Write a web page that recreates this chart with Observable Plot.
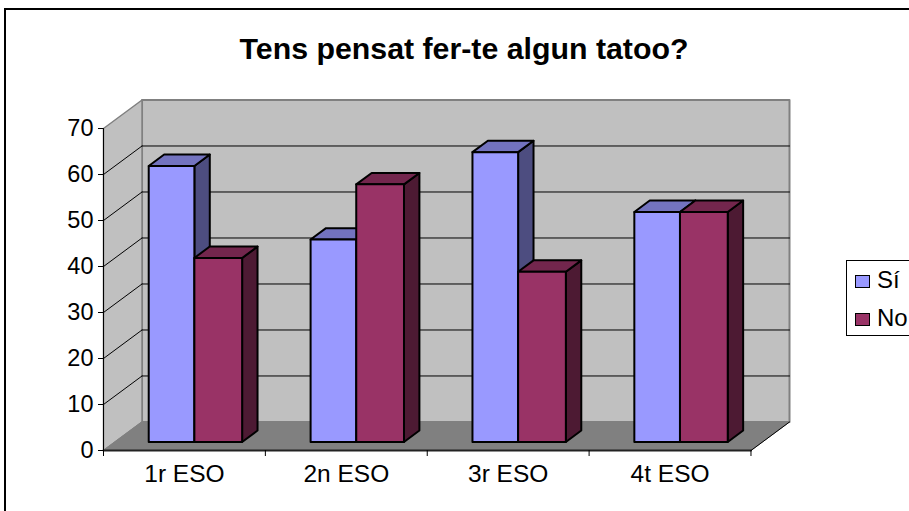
<!DOCTYPE html>
<html>
<head>
<meta charset="utf-8">
<script src="https://cdn.jsdelivr.net/npm/d3@7"></script>
<script src="https://cdn.jsdelivr.net/npm/@observablehq/plot@0.6"></script>
<style>
html,body{margin:0;padding:0;background:#fff;overflow:hidden;width:909px;height:511px}
body{position:relative;font-family:"Liberation Sans",Arial,sans-serif;color:#000}
#frame{position:absolute;left:4px;top:8px;width:1000px;height:1000px;border:2px solid #000;box-sizing:border-box;pointer-events:none}
#title{position:absolute;left:0;width:928px;top:32px;text-align:center;font-weight:bold;font-size:30.3px;line-height:34px;white-space:nowrap}
#chart{position:absolute;left:0;top:0}
#legend{position:absolute;left:846px;top:260px;width:90px;height:76px;border:1px solid #000;box-sizing:border-box;background:#fff}
.row{position:absolute;left:8px;font-size:24px;line-height:28px;white-space:nowrap}
.sw{display:inline-block;width:13px;height:11px;border:1.5px solid #000;margin-right:7px;vertical-align:0px}
</style>
</head>
<body>
<div id="chart"></div>
<div id="frame"></div>
<div id="title">Tens pensat fer-te algun tatoo?</div>
<div id="legend"></div>
<script>
const categories = ["1r ESO", "2n ESO", "3r ESO", "4t ESO"];
const si = [60, 44, 63, 50];
const no = [40, 56, 37, 50];
const yTicks = [0, 10, 20, 30, 40, 50, 60, 70];
const seriesNames = ["Sí", "No"];
const front = ["#9999FF", "#993366"];
const top_ = ["#7373BF", "#73264D"];
const side = ["#4D4D80", "#4D1A33"];

// oblique projection of the chart's box: depth z (0 = front, 1 = back) shifts x and y in data units
const depthX = 0.238, depthY = 6.2;
const yMax = 70;
const n = categories.length;
const P = (x, y, z) => ({px: x + z * depthX, py: y + z * depthY});
const poly = (pts, fill, stroke, strokeWidth) =>
  Plot.line(pts.map(([x, y, z]) => P(x, y, z)), {x: "px", y: "py", fill, stroke, strokeWidth, curve: "linear-closed"});
const seg = (a, b, stroke, strokeWidth) =>
  Plot.line([a, b].map(([x, y, z]) => P(x, y, z)), {x: "px", y: "py", stroke, strokeWidth});

const marks = [];
// back wall, side wall, floor
marks.push(poly([[0,0,1],[n,0,1],[n,yMax,1],[0,yMax,1]], "#C0C0C0", "#808080", 2));
marks.push(poly([[0,0,0],[0,0,1],[0,yMax,1],[0,yMax,0]], "#C0C0C0", "#808080", 1.5));
marks.push(poly([[0,0,0],[n,0,0],[n,0,1],[0,0,1]], "#808080", "#808080", 1));
// gridlines on both walls
for (const t of yTicks.slice(1)) {
  if (t < yMax) marks.push(seg([0,t,1],[n,t,1], "#000", 1));
  if (t < yMax) marks.push(seg([0,t,0],[0,t,1], "#000", 1));
}
// floor edges
marks.push(seg([0,0,0],[n,0,0], "#222", 2));
marks.push(seg([n,0,0],[n,0,1], "#000", 1));
// bars
const z0 = 0.3, z1 = 0.7, edges = [0.208, 0.49, 0.785];
categories.forEach((c, i) => {
  [si[i], no[i]].forEach((v, s) => {
    const l = i + edges[s], r = i + edges[s + 1];
    marks.push(poly([[r,0,z0],[r,0,z1],[r,v,z1],[r,v,z0]], side[s], "#000", 2));
    marks.push(poly([[l,v,z0],[r,v,z0],[r,v,z1],[l,v,z1]], top_[s], "#000", 2));
    marks.push(poly([[l,0,z0],[r,0,z0],[r,v,z0],[l,v,z0]], front[s], "#000", 2));
  });
});
// front axis lines
marks.push(seg([0,0,0],[0,yMax,0], "#000", 1));
marks.push(Plot.axisY({ticks: yTicks, tickSize: 5, tickPadding: 5, label: null, fontSize: 23.5, stroke: "#000", color: "#000"}));
marks.push(Plot.axisX({ticks: d3.range(n + 1), tickSize: 6, tickFormat: () => "", label: null, stroke: "#000"}));
marks.push(Plot.axisX({ticks: categories.map((c, i) => i + 0.5), tickSize: 0, tickPadding: 14,
  tickFormat: d => categories[d - 0.5], label: null, fontSize: 24.5, color: "#000"}));

const chart = Plot.plot({
  width: 909, height: 511,
  marginLeft: 103, marginRight: 120, marginTop: 99.5, marginBottom: 61,
  style: {fontFamily: '"Liberation Sans", Arial, sans-serif', background: "transparent", overflow: "visible"},
  x: {type: "linear", domain: [0, n + depthX]},
  y: {type: "linear", domain: [0, yMax + depthY]},
  marks
});
document.getElementById("chart").append(chart);

const legend = document.getElementById("legend");
seriesNames.forEach((name, i) => {
  const row = document.createElement("div");
  row.className = "row";
  row.style.top = (5 + i * 37.5) + "px";
  const sw = document.createElement("span");
  sw.className = "sw";
  sw.style.background = front[i];
  row.append(sw, name);
  legend.append(row);
});
</script>
</body>
</html>
